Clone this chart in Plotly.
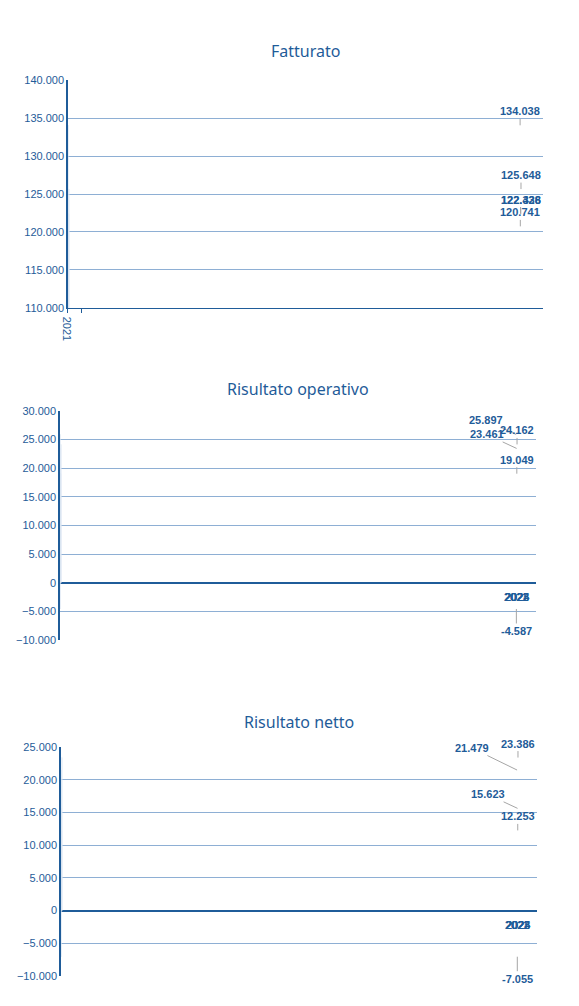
import plotly.graph_objects as go

years = ["2021", "2022", "2023", "2024", "2025"]
fatturato = [134038, 120741, 122428, 122336, 125648]
operativo = [25897, -4587, 23461, 19049, 24162]
netto = [21479, -7055, 15623, 12253, 23386]

BLUE = "#1F5C99"
GRID = "#8EAFD4"
LBL = dict(family="Liberation Sans", size=11, color=BLUE)

fig = go.Figure()

charts = [
    ("Fatturato", fatturato, [110000, 140000], [0.1036, 0.924], [0.7018, 0.9284], 43,
     [(0, -14)] * 5),
    ("Risultato operativo", operativo, [-10000, 30000], [0.0898, 0.912], [0.3718, 0.5994], 381,
     [(-30, -14), (0, 22), (-30, -14), (0, -14), (0, -14)]),
    ("Risultato netto", netto, [-10000, 25000], [0.0915, 0.9136], [0.0378, 0.2654], 714,
     [(-45, -22), (0, 22), (-30, -14), (0, -14), (0, -14)]),
]

for i, (title, vals, rng, xd, yd, ty, offs) in enumerate(charts):
    n = "" if i == 0 else str(i + 1)
    fig.add_trace(go.Bar(x=years, y=vals, marker_color=BLUE, width=0.4,
                         xaxis="x" + n, yaxis="y" + n, hoverinfo="skip"))
    fig.layout["xaxis" + n] = dict(domain=xd, anchor="y" + n, type="category",
                                   showticklabels=(i == 0), automargin=False,
                                   tickfont=LBL, showgrid=False, showline=(i == 0),
                                   linecolor=BLUE, ticks="outside" if i == 0 else "",
                                   tickson="boundaries", tickcolor=BLUE, ticklen=4)
    fig.layout["yaxis" + n] = dict(domain=yd, anchor="x" + n, range=rng, dtick=5000,
                                   tickformat=",d", tickfont=LBL, showgrid=True, automargin=False,
                                   gridcolor=GRID, showline=True, linecolor=BLUE,
                                   linewidth=1.5, zeroline=(i > 0), zerolinecolor=BLUE,
                                   zerolinewidth=1.5, fixedrange=True)
    fig.add_annotation(text=title, xref="paper", yref="paper", x=(xd[0] + xd[1]) / 2,
                       y=1 - ty / 1006, yanchor="middle", showarrow=False,
                       font=dict(family="Noto Sans", size=16, color=BLUE))
    for yr, v, (ax, ay) in zip(years, vals, offs):
        fig.add_annotation(x=yr, y=v, xref="x" + n, yref="y" + n, text="<b>%s</b>" % f"{v:,}".replace(",", "."),
                           showarrow=True, arrowhead=0, arrowcolor="#A6A6A6", arrowwidth=1,
                           ax=ax, ay=ay, standoff=0, font=dict(family="Liberation Sans", size=11, color=BLUE))
        if i > 0:
            fig.add_annotation(x=yr, y=0, xref="x" + n, yref="y" + n, text=yr, showarrow=False,
                               yshift=-14, font=LBL)

fig.update_layout(width=579, height=1006, margin=dict(l=0, r=0, t=0, b=0),
                  plot_bgcolor="white", paper_bgcolor="white", showlegend=False,
                  separators=",.", bargap=0.6)
fig.write_html("out.html")
